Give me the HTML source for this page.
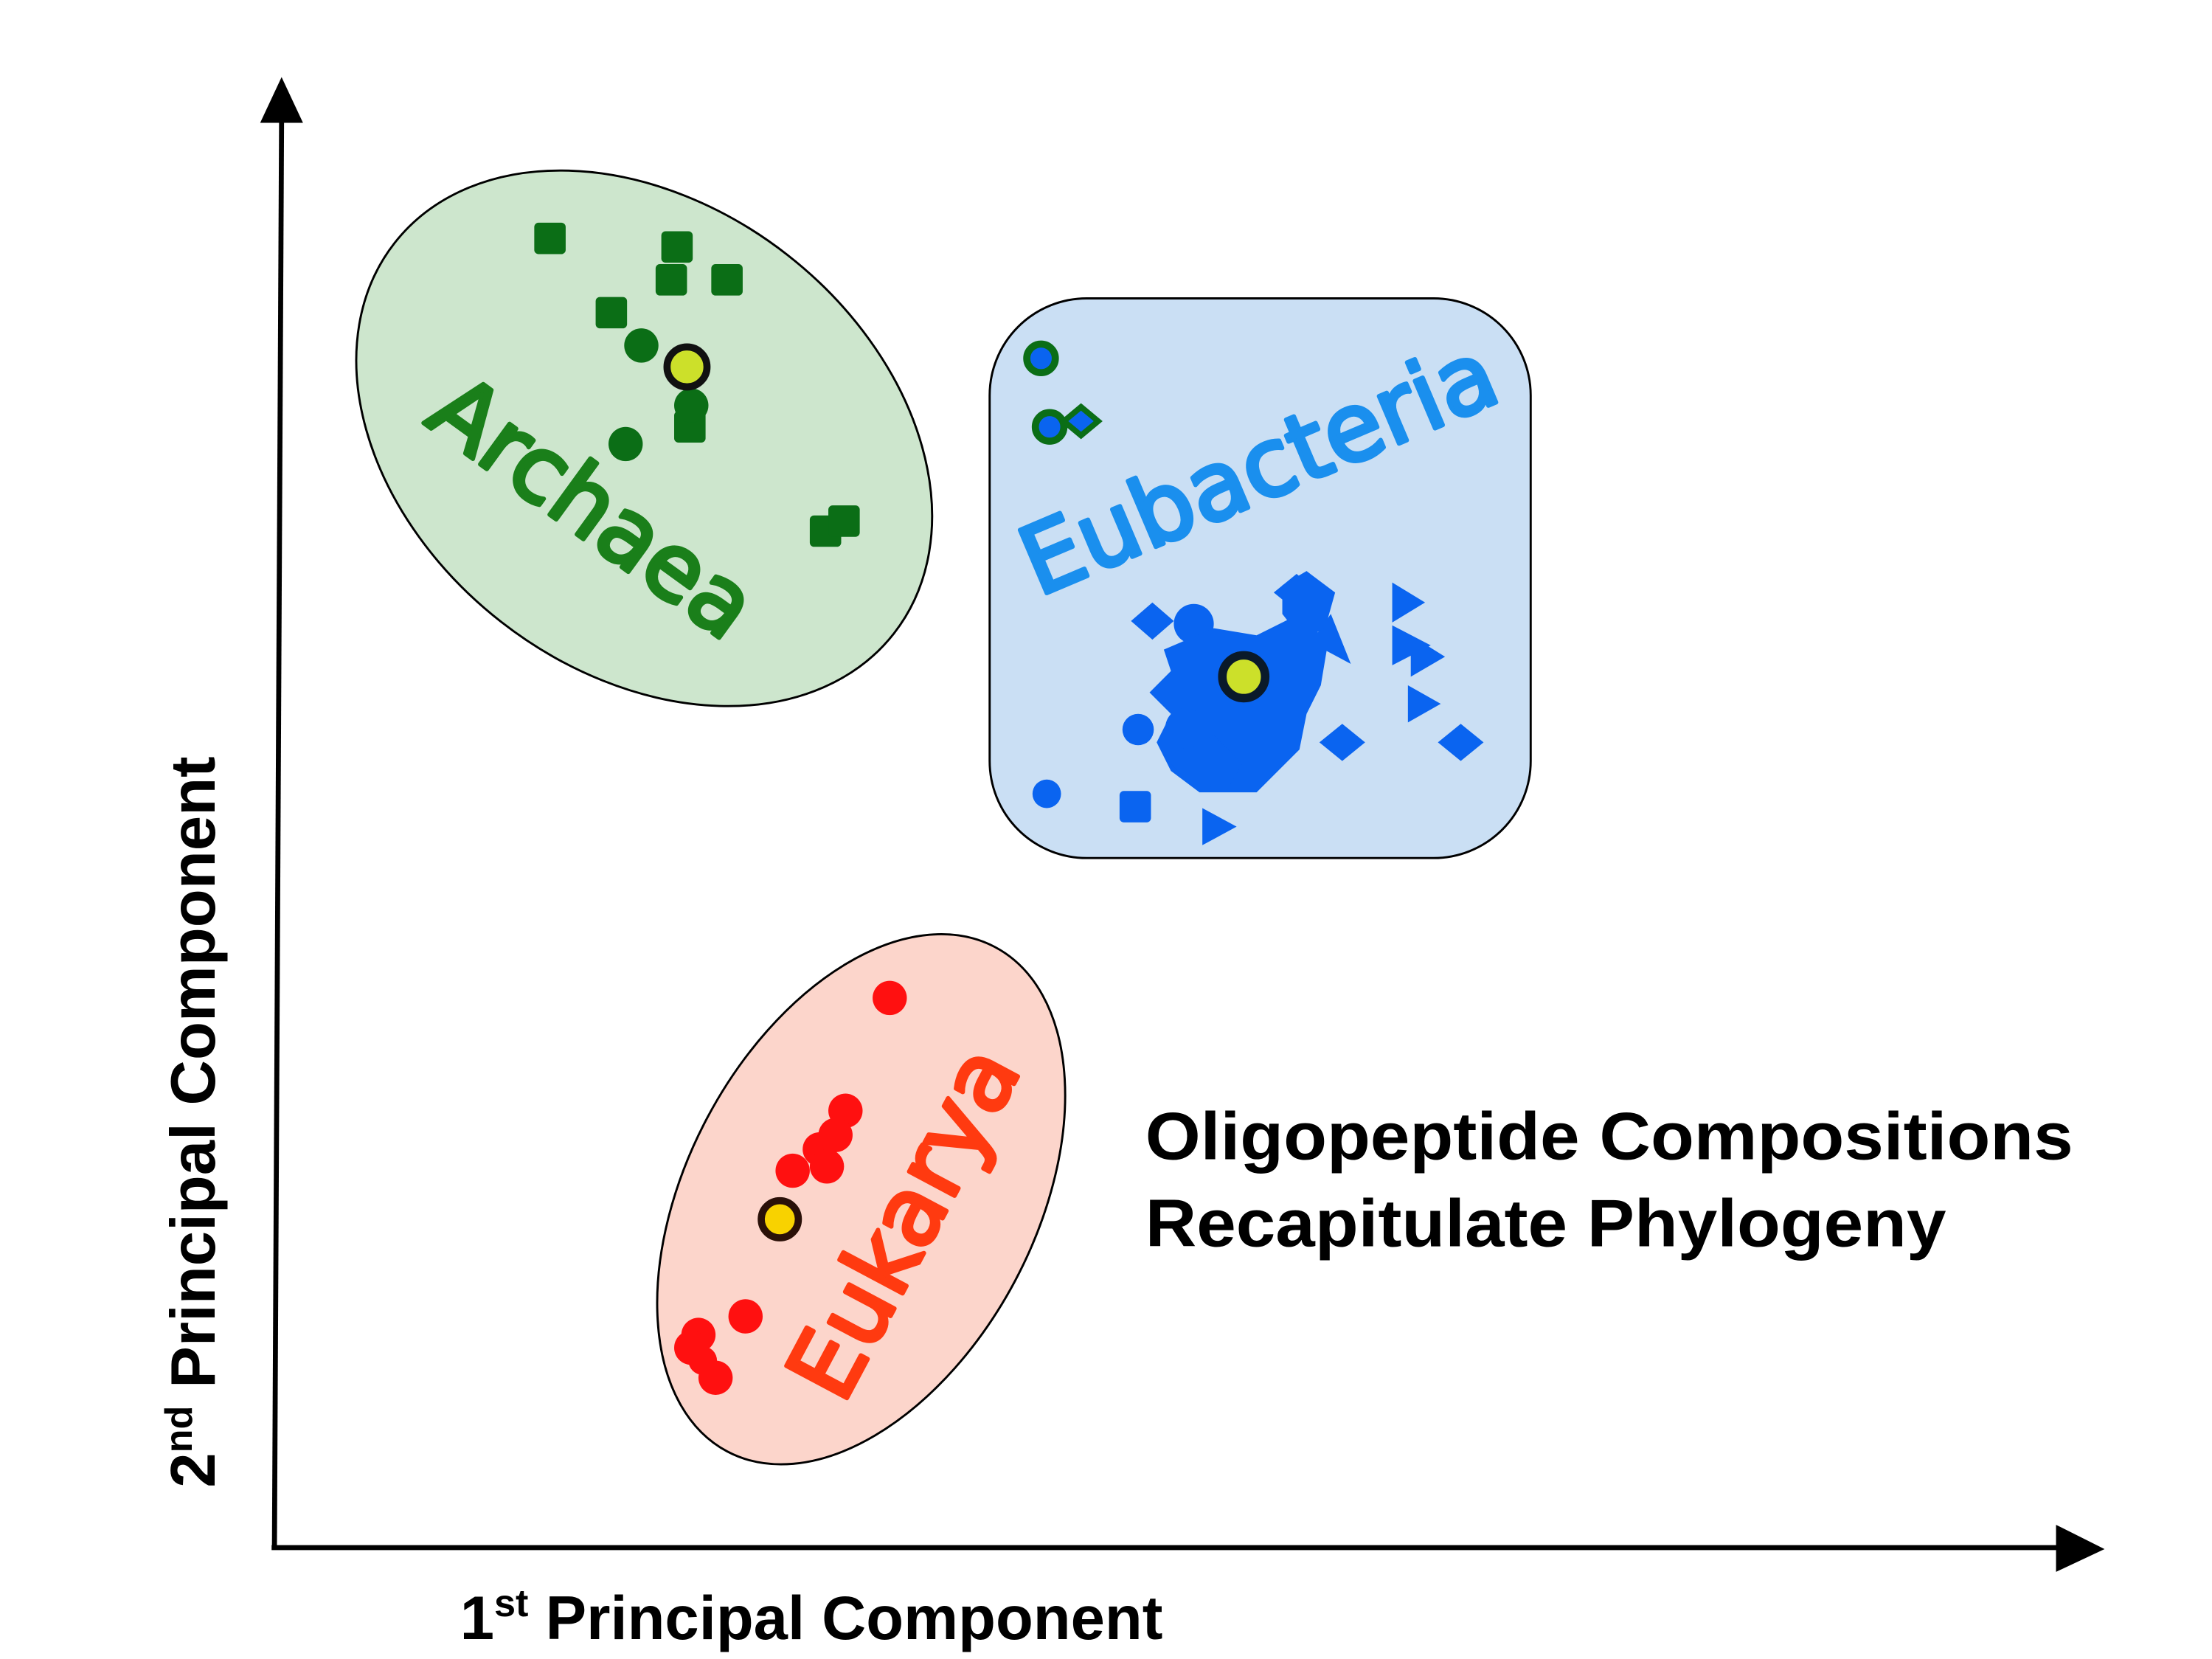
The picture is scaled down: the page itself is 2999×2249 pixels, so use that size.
<!DOCTYPE html>
<html><head><meta charset="utf-8"><style>
html,body{margin:0;padding:0;background:#fff;}
svg{display:block;}
.b{font-family:"Liberation Sans",sans-serif;font-weight:bold;fill:#000;}
.h{font-family:"DejaVu Sans","Liberation Sans",sans-serif;}
</style></head><body>
<svg width="2999" height="2249" viewBox="0 0 1549 1162" xmlns="http://www.w3.org/2000/svg">
<!-- axes -->
<line x1="192" y1="1084" x2="197" y2="82" stroke="#000" stroke-width="3.5"/>
<polygon points="197,54 182,86 212,86" fill="#000"/>
<line x1="190" y1="1084" x2="1445" y2="1084" stroke="#000" stroke-width="3.5"/>
<polygon points="1474,1085 1440,1068 1440,1101" fill="#000"/>

<!-- Archaea -->
<ellipse cx="451" cy="307" rx="222" ry="163" transform="rotate(38 451 307)" fill="#cde6cd" stroke="#000" stroke-width="1.5"/>
<g fill="#0b6e16">
<rect x="374" y="156" width="22" height="22" rx="3"/>
<rect x="463" y="162" width="22" height="22" rx="3"/>
<rect x="459" y="185" width="22" height="22" rx="3"/>
<rect x="498" y="185" width="22" height="22" rx="3"/>
<rect x="417" y="208" width="22" height="22" rx="3"/>
<rect x="472" y="288" width="22" height="22" rx="3"/>
<rect x="567" y="361" width="22" height="22" rx="3"/>
<rect x="580" y="354" width="22" height="22" rx="3"/>
<circle cx="449" cy="242" r="12"/>
<circle cx="438" cy="311" r="12"/>
<circle cx="484" cy="284" r="12"/>
</g>
<circle cx="481" cy="257" r="14" fill="#cce02a" stroke="#111" stroke-width="5"/>
<text class="h" x="0" y="0" transform="translate(296,296) rotate(36)" font-size="64" fill="#1a7f1a" stroke="#1a7f1a" stroke-width="3" stroke-linejoin="round">Archaea</text>

<!-- Eubacteria -->
<rect x="693" y="209" width="379" height="392" rx="68" fill="#cadff4" stroke="#000" stroke-width="1.5"/>
<circle cx="729" cy="251" r="10" fill="#0a64f0" stroke="#0b6e16" stroke-width="5"/>
<circle cx="735" cy="299" r="10" fill="#0a64f0" stroke="#0b6e16" stroke-width="5"/>
<polygon points="757,285 769,295 757,305 745,295" fill="#0a64f0" stroke="#0b6e16" stroke-width="4"/>
<g fill="#0a64f0">
<polygon points="807,422 822,435 807,448 792,435"/>
<circle cx="836" cy="437" r="14"/>
<polygon points="908,402 924,415 908,428 892,415"/>
<polygon points="940,507 956,520 940,533 924,520"/>
<polygon points="1023,507 1039,520 1023,533 1007,520"/>
<polygon points="975,408 998,422 975,436"/>
<polygon points="975,438 1002,452 975,466"/>
<polygon points="988,445 1012,460 988,474"/>
<polygon points="986,480 1009,493 986,506"/>
<polygon points="842,566 866,579 842,592"/>
<polygon points="918,450 932,430 946,465"/>
<polygon points="898,410 915,400 935,415 928,440 912,448 898,430"/>
<rect x="784" y="554" width="22" height="22" rx="3"/>
<circle cx="797" cy="511" r="11"/>
<circle cx="733" cy="556" r="10"/>
<polygon points="815,455 850,440 880,445 910,430 930,450 925,480 915,500 910,525 895,540 880,555 840,555 820,540 810,520 820,500 805,485 820,470"/>
<polygon points="815,530 850,515 870,535 860,552 835,550"/>
<circle cx="830" cy="510" r="14"/>
</g>
<circle cx="871" cy="474" r="15" fill="#cce02a" stroke="#0a1a2a" stroke-width="6"/>
<text class="h" x="0" y="0" transform="translate(727,418) rotate(-23)" font-size="66" fill="#1a8fee" stroke="#1a8fee" stroke-width="3" stroke-linejoin="round">Eubacteria</text>

<!-- Eukarya -->
<ellipse cx="603" cy="840" rx="200" ry="122" transform="rotate(-62 603 840)" fill="#fcd5cb" stroke="#000" stroke-width="1.5"/>
<g fill="#ff1010">
<circle cx="623" cy="699" r="12"/>
<circle cx="592" cy="778" r="12"/>
<circle cx="585" cy="795" r="12"/>
<circle cx="574" cy="805" r="12"/>
<circle cx="579" cy="817" r="12"/>
<circle cx="555" cy="820" r="12"/>
<circle cx="522" cy="922" r="12"/>
<circle cx="489" cy="935" r="12"/>
<circle cx="484" cy="944" r="12"/>
<circle cx="492" cy="953" r="10"/>
<circle cx="501" cy="965" r="12"/>
</g>
<circle cx="546" cy="854" r="13" fill="#f8d200" stroke="#2a1008" stroke-width="5"/>
<text class="h" x="0" y="0" transform="translate(590,985) rotate(-62)" font-size="66" fill="#ff3a10" stroke="#ff3a10" stroke-width="3" stroke-linejoin="round">Eukarya</text>

<!-- titles -->
<text class="b" x="802" y="812" font-size="47" textLength="650" lengthAdjust="spacingAndGlyphs">Oligopeptide Compositions</text>
<text class="b" x="802" y="873" font-size="47" textLength="561" lengthAdjust="spacingAndGlyphs">Recapitulate Phylogeny</text>
<text class="b" x="322" y="1148" font-size="43">1<tspan font-size="27" dy="-16">st</tspan><tspan dy="16"> Principal Component</tspan></text>
<text class="b" x="0" y="0" transform="translate(150,1042) rotate(-90)" font-size="44">2<tspan font-size="27" dy="-16">nd</tspan><tspan dy="16">  Principal Component</tspan></text>
</svg>
</body></html>
